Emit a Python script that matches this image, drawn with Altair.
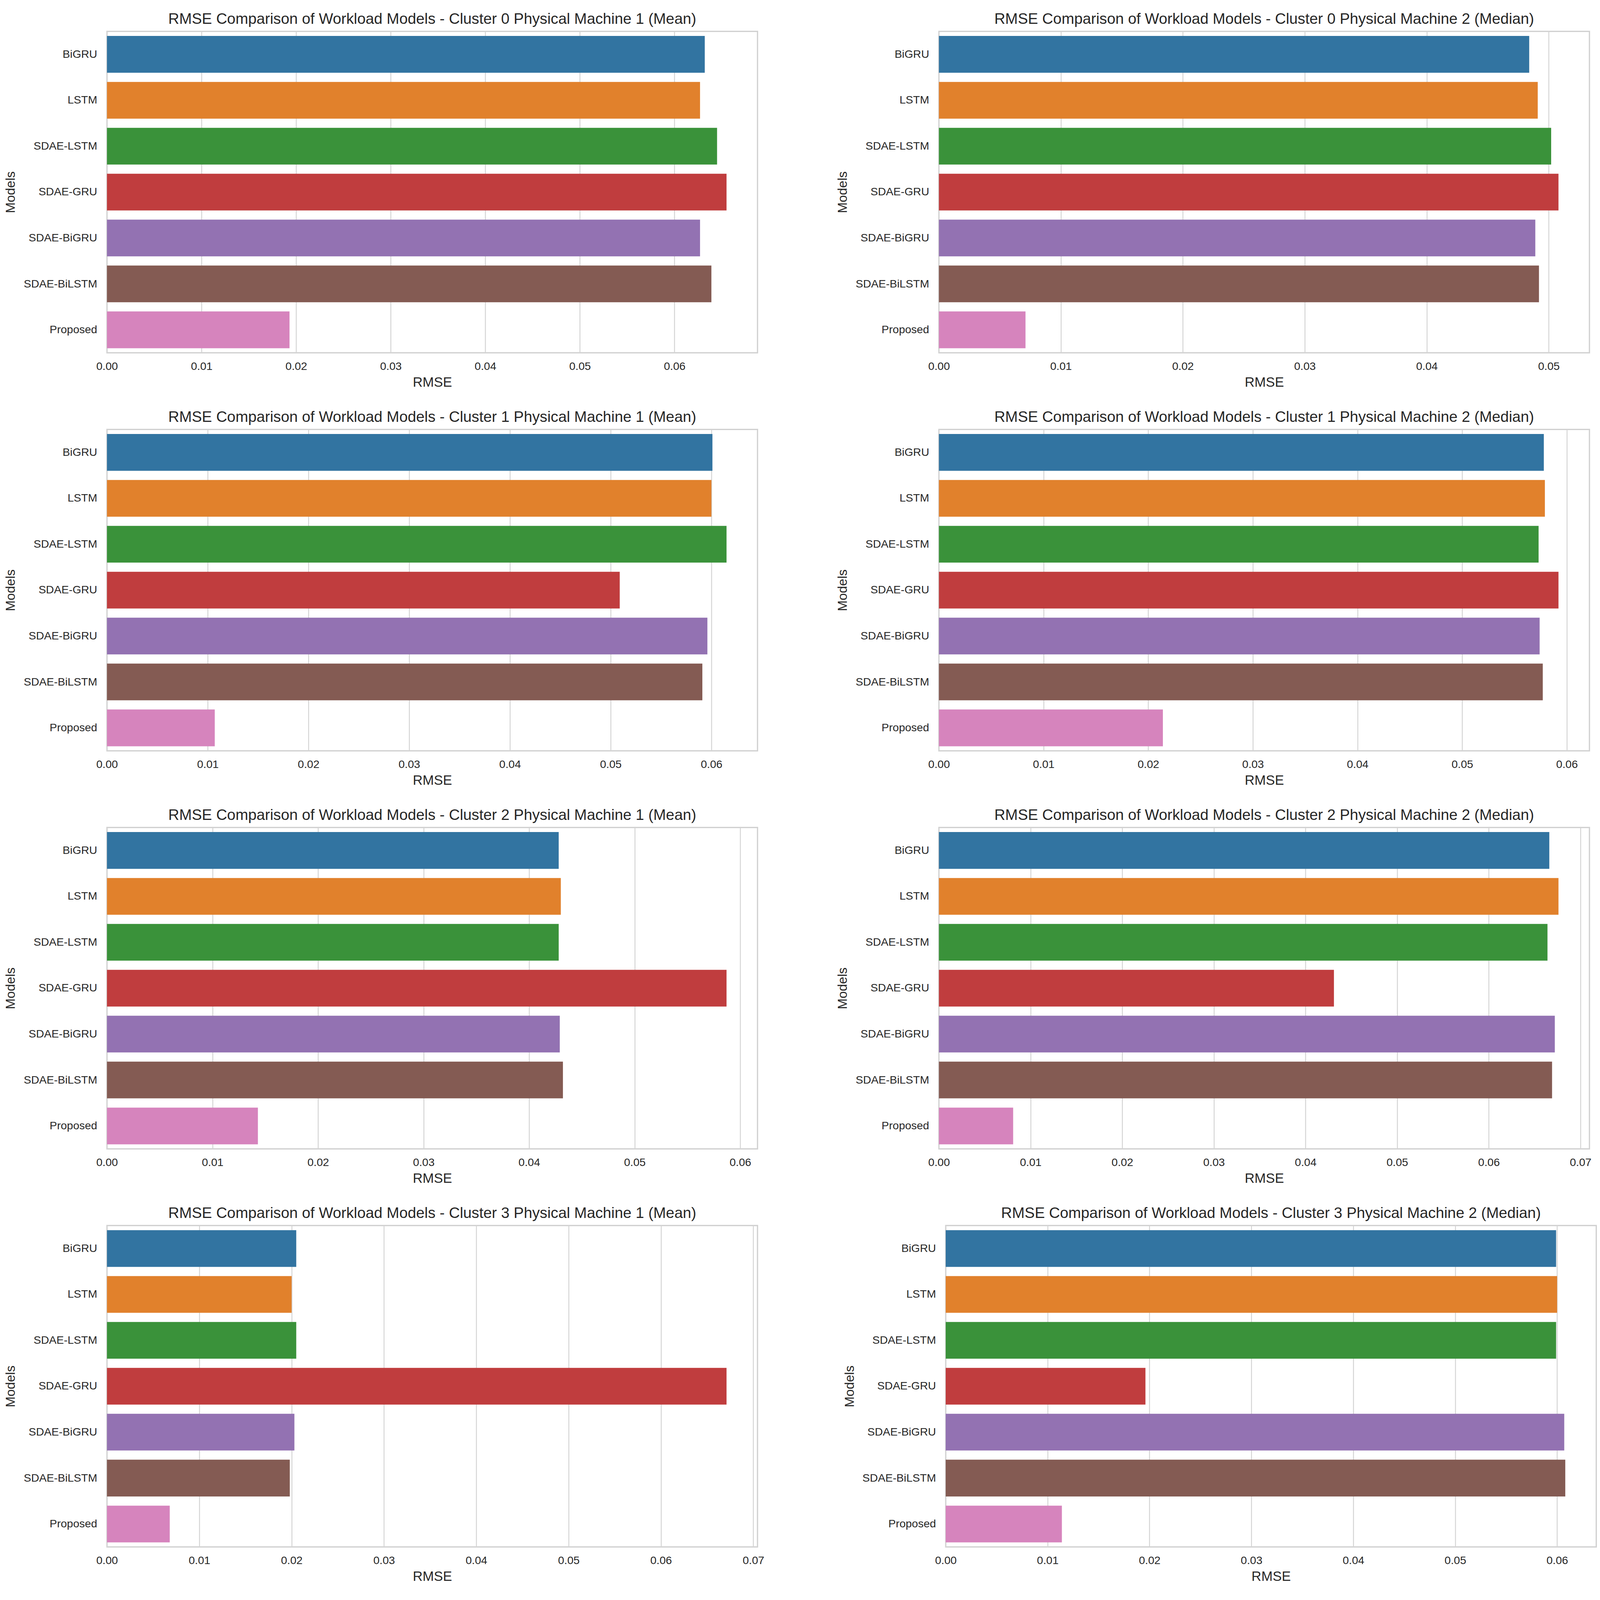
import altair as alt
import pandas as pd

models = ["BiGRU", "LSTM", "SDAE-LSTM", "SDAE-GRU", "SDAE-BiGRU", "SDAE-BiLSTM", "Proposed"]
colors = ["#3274a1", "#e1812c", "#3a923a", "#c03d3e", "#9372b2", "#845b53", "#d684bd"]

titles = [
    "RMSE Comparison of Workload Models - Cluster 0 Physical Machine 1 (Mean)",
    "RMSE Comparison of Workload Models - Cluster 0 Physical Machine 2 (Median)",
    "RMSE Comparison of Workload Models - Cluster 1 Physical Machine 1 (Mean)",
    "RMSE Comparison of Workload Models - Cluster 1 Physical Machine 2 (Median)",
    "RMSE Comparison of Workload Models - Cluster 2 Physical Machine 1 (Mean)",
    "RMSE Comparison of Workload Models - Cluster 2 Physical Machine 2 (Median)",
    "RMSE Comparison of Workload Models - Cluster 3 Physical Machine 1 (Mean)",
    "RMSE Comparison of Workload Models - Cluster 3 Physical Machine 2 (Median)",
]

c0_pm1 = [0.0632, 0.0627, 0.0645, 0.0655, 0.0627, 0.0639, 0.0193]
c0_pm2 = [0.0484, 0.0491, 0.0502, 0.0508, 0.0489, 0.0492, 0.0071]
c1_pm1 = [0.0601, 0.0600, 0.0615, 0.0509, 0.0596, 0.0591, 0.0107]
c1_pm2 = [0.0578, 0.0579, 0.0573, 0.0592, 0.0574, 0.0577, 0.0214]
c2_pm1 = [0.0428, 0.0430, 0.0428, 0.0587, 0.0429, 0.0432, 0.0143]
c2_pm2 = [0.0666, 0.0676, 0.0664, 0.0431, 0.0672, 0.0669, 0.0081]
c3_pm1 = [0.0205, 0.0200, 0.0205, 0.0671, 0.0203, 0.0198, 0.0068]
c3_pm2 = [0.0599, 0.0600, 0.0599, 0.0196, 0.0607, 0.0608, 0.0114]

series = [c0_pm1, c0_pm2, c1_pm1, c1_pm2, c2_pm1, c2_pm2, c3_pm1, c3_pm2]

FONT = "Arial"
TXT = "#262626"
PW, PH = 2105, 1040


def panel(title, vals):
    df = pd.DataFrame({"Models": models, "RMSE": vals})
    xmax = max(vals) * 1.05
    ticks = [round(i * 0.01, 2) for i in range(int(xmax / 0.01 + 1e-9) + 1)]
    return (
        alt.Chart(
            df,
            title=alt.TitleParams(
                title, anchor="middle", frame="group", fontSize=49, font=FONT,
                color=TXT, fontWeight="normal", offset=14,
            ),
        )
        .mark_bar()
        .encode(
            y=alt.Y(
                "Models:N", sort=models,
                scale=alt.Scale(paddingInner=0.2, paddingOuter=0.1),
                axis=alt.Axis(
                    title="Models", titleFontSize=42, titleFont=FONT, titleColor=TXT,
                    titleFontWeight="normal", titlePadding=89,
                    labelFontSize=36, labelFont=FONT, labelColor=TXT, labelLimit=400,
                    labelPadding=32, ticks=False, domain=False, grid=False,
                ),
            ),
            x=alt.X(
                "RMSE:Q",
                scale=alt.Scale(domain=[0, xmax], nice=False, zero=True),
                axis=alt.Axis(
                    title="RMSE", titleFontSize=44, titleFont=FONT, titleColor=TXT,
                    titleFontWeight="normal", titlePadding=12,
                    labelFontSize=36, labelFont=FONT, labelColor=TXT,
                    labelPadding=27, ticks=False, domain=False, values=ticks,
                    format=".2f", labelBound=False, labelFlush=False, labelOverlap=False,
                    grid=True, gridColor="#d4d4d4", gridWidth=3,
                ),
            ),
            color=alt.Color("Models:N", scale=alt.Scale(domain=models, range=colors), legend=None),
        )
        .properties(width=PW, height=PH)
    )


charts = [panel(t, v) for t, v in zip(titles, series)]
rows = [alt.hconcat(charts[i], charts[i + 1], spacing=251) for i in range(0, 8, 2)]
chart = (
    alt.vconcat(*rows, spacing=63)
    .properties(padding={"top": -570, "left": 2, "right": 0, "bottom": 0}, background="white")
    .configure_view(stroke="#d0d0d0", strokeWidth=4, fill="white")
)

chart.save("out.html", embed_options={"renderer": "svg", "actions": False})
